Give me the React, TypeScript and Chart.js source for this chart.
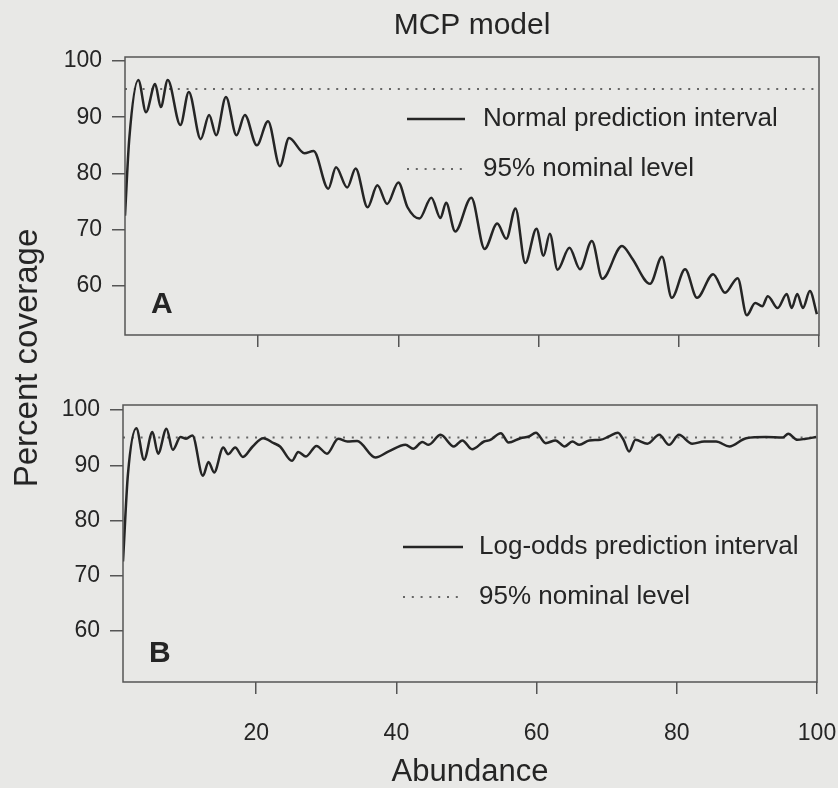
import React, { useEffect, useRef } from "react";
import { Chart, registerables } from "chart.js";

Chart.register(...registerables);

// ---------- data ----------
const abundanceA = [
  1.0, 1.6, 2.9, 4.0, 5.3, 6.1, 7.1, 8.9, 10.1, 11.8, 13.0, 14.0, 15.4, 16.9, 18.1, 19.8,
  21.4, 23.1, 24.4, 26.6, 27.9, 30.0, 31.1, 32.7, 33.9, 35.6, 37.0, 38.4, 40.0, 41.3, 43.0,
  44.7, 46.0, 46.8, 48.1, 50.4, 52.3, 54.1, 55.4, 56.7, 58.1, 59.7, 60.7, 61.6, 62.7, 64.4,
  65.9, 67.6, 69.1, 71.9, 73.3, 75.9, 77.6, 79.0, 80.9, 82.6, 84.9, 86.6, 88.4, 89.7, 90.9,
  91.9, 92.7, 94.1, 95.4, 96.1, 96.9, 97.7, 98.7, 99.7,
];
const coverageA = [
  72.5, 86.0, 96.6, 90.9, 95.9, 91.8, 96.6, 88.6, 94.5, 86.1, 90.4, 86.8, 93.6, 86.8, 90.4, 85.0,
  89.3, 81.3, 86.3, 83.6, 84.0, 77.3, 81.1, 77.5, 80.9, 74.0, 77.9, 74.6, 78.4, 74.0, 72.0,
  75.7, 72.1, 74.8, 69.7, 75.7, 66.6, 71.1, 68.4, 73.8, 64.1, 70.2, 65.4, 69.3, 62.9, 66.8,
  63.0, 68.0, 61.3, 67.1, 65.0, 60.4, 65.2, 57.9, 63.0, 57.9, 62.1, 58.8, 61.4, 54.8, 57.0,
  56.4, 58.2, 56.1, 58.6, 56.1, 58.6, 56.1, 59.1, 55.0,
];

const abundanceB = [
  1.0, 1.7, 2.9, 4.0, 5.2, 6.0, 7.2, 8.1, 9.2, 10.0, 10.9, 12.4, 13.2, 14.0, 15.3, 16.0, 17.0,
  18.1, 19.5, 21.0, 22.5, 23.4, 25.1, 26.0, 27.1, 28.6, 30.1, 31.7, 33.0, 34.4, 37.0, 38.9,
  41.3, 42.4, 43.7, 44.6, 46.3, 48.2, 49.4, 50.8, 52.5, 53.4, 54.9, 56.0, 57.7, 58.9, 59.9,
  61.3, 62.7, 64.0, 65.1, 66.1, 67.5, 69.1, 70.3, 71.6, 72.4, 73.2, 74.1, 75.8, 77.5, 78.9,
  80.3, 82.2, 83.9, 85.6, 87.5, 89.9, 92.7, 95.1, 95.9, 97.2, 98.4, 99.9,
];
const coverageB = [
  72.6, 88.3, 96.7, 91.0, 96.0, 92.1, 96.6, 92.8, 95.1, 94.8, 95.4, 88.1, 90.6, 88.7, 93.2, 92.0, 93.2,
  91.5, 93.4, 94.9, 94.0, 93.4, 90.8, 92.4, 91.6, 93.5, 92.1, 94.8, 94.3, 94.4, 91.4, 92.5,
  93.7, 93.0, 94.2, 93.7, 95.5, 93.4, 94.5, 92.9, 94.3, 94.6, 95.8, 94.1, 94.9, 95.2, 95.9,
  94.0, 94.5, 93.4, 94.3, 93.7, 94.5, 94.6, 95.2, 95.9, 94.6, 92.5, 94.6, 93.9, 95.5, 93.7,
  95.5, 93.9, 94.3, 94.3, 93.4, 94.9, 95.1, 95.0, 95.7, 94.6, 94.8, 95.1,
];

const nominalLevel = 95;
const abundanceRange = [1, 100];
const yTickValues = [60, 70, 80, 90, 100];
const xTickValues = [20, 40, 60, 80, 100];
const seriesLabelA = "Normal prediction interval";
const seriesLabelB = "Log-odds prediction interval";
const nominalLabel = "95% nominal level";

// ---------- styling ----------
const FONT = "'Liberation Sans', Arial, Helvetica, sans-serif";
const INK = "#252525";
const AXIS = "#555555";
const DOTS = "#666666";
const BG = "#e8e8e6";

const toPoints = (xs: number[], ys: number[]) => xs.map((x, i) => ({ x, y: ys[i] }));

const decorPlugin = {
  id: "panelDecor",
  afterDraw(chart: any, _args: any, opts: any) {
    const ctx = chart.ctx;
    const a = chart.chartArea;
    ctx.save();
    // frame
    ctx.setLineDash([]);
    ctx.strokeStyle = AXIS;
    ctx.lineWidth = 1.5;
    ctx.strokeRect(a.left, a.top, a.right - a.left, a.bottom - a.top);
    // panel letter
    ctx.fillStyle = INK;
    ctx.font = `bold 30px ${FONT}`;
    ctx.textAlign = "left";
    ctx.textBaseline = "alphabetic";
    ctx.fillText(opts.letter, opts.letterX, opts.letterY);
    // legend
    chart.data.datasets.forEach((ds: any, i: number) => {
      const y = opts.legendY + i * opts.legendGap;
      ctx.beginPath();
      ctx.setLineDash(ds.borderDash || []);
      ctx.strokeStyle = ds.borderColor;
      ctx.lineWidth = ds.borderWidth;
      ctx.moveTo(opts.legendX, y);
      ctx.lineTo(opts.legendX + opts.sampleLen, y);
      ctx.stroke();
      ctx.setLineDash([]);
      ctx.fillStyle = INK;
      ctx.font = `26px ${FONT}`;
      ctx.textBaseline = "middle";
      ctx.textAlign = "left";
      ctx.fillText(ds.label, opts.legendX + opts.sampleLen + opts.textGap, y);
    });
    // shared y-axis title
    if (opts.yTitle) {
      ctx.translate(opts.yTitleX, opts.yTitleY);
      ctx.rotate(-Math.PI / 2);
      ctx.font = `33px ${FONT}`;
      ctx.textAlign = "center";
      ctx.textBaseline = "middle";
      ctx.fillStyle = INK;
      ctx.fillText(opts.yTitle, 0, 0);
    }
    ctx.restore();
  },
};

function makeScales(p: {
  yWidth: number;
  xHeight: number;
  showX: boolean;
  yMin: number;
  yMax: number;
  xTitle?: string;
}) {
  const zeroPad = (s: any) => {
    s.paddingLeft = 0;
    s.paddingRight = 0;
    s.paddingTop = 0;
    s.paddingBottom = 0;
  };
  return {
    x: {
      type: "linear",
      min: abundanceRange[0],
      max: abundanceRange[1],
      afterBuildTicks: (s: any) => {
        s.ticks = xTickValues.map((v) => ({ value: v }));
      },
      afterFit: (s: any) => {
        s.height = p.xHeight;
        zeroPad(s);
      },
      grid: {
        display: true,
        drawOnChartArea: false,
        drawTicks: true,
        tickLength: 12,
        color: AXIS,
        lineWidth: 1.5,
      },
      border: { display: false },
      ticks: {
        display: p.showX,
        font: { family: FONT, size: 23 },
        color: INK,
        padding: 26,
        maxRotation: 0,
        autoSkip: false,
      },
      title: p.xTitle
        ? {
            display: true,
            text: p.xTitle,
            font: { family: FONT, size: 31, lineHeight: 1 },
            color: INK,
            padding: 0,
          }
        : { display: false },
    },
    y: {
      type: "linear",
      min: p.yMin,
      max: p.yMax,
      afterBuildTicks: (s: any) => {
        s.ticks = yTickValues.map((v) => ({ value: v }));
      },
      afterFit: (s: any) => {
        s.width = p.yWidth;
        zeroPad(s);
      },
      grid: {
        display: true,
        drawOnChartArea: false,
        drawTicks: true,
        tickLength: 13,
        color: AXIS,
        lineWidth: 1.5,
      },
      border: { display: false },
      ticks: {
        font: { family: FONT, size: 23 },
        color: INK,
        padding: 10,
        autoSkip: false,
      },
    },
  };
}

function makeDatasets(label: string, xs: number[], ys: number[]) {
  return [
    {
      label,
      data: toPoints(xs, ys),
      borderColor: INK,
      borderWidth: 2.5,
      pointRadius: 0,
      fill: false,
      cubicInterpolationMode: "monotone",
    },
    {
      label: nominalLabel,
      data: toPoints(abundanceRange, [nominalLevel, nominalLevel]),
      borderColor: DOTS,
      borderWidth: 2,
      borderDash: [2, 6.8],
      pointRadius: 0,
      fill: false,
    },
  ];
}

function configA(): any {
  return {
    type: "line",
    data: { datasets: makeDatasets(seriesLabelA, abundanceA, coverageA) },
    plugins: [decorPlugin],
    options: {
      responsive: false,
      animation: false,
      events: [],
      layout: { padding: { top: 0, left: 0, right: 19, bottom: 441 } },
      scales: makeScales({ yWidth: 125, xHeight: 12, showX: false, yMin: 51.3, yMax: 100.7 }),
      plugins: {
        legend: { display: false },
        tooltip: { enabled: false },
        title: {
          display: true,
          text: "MCP model",
          fullSize: false,
          color: INK,
          font: { family: FONT, size: 30, weight: "normal", lineHeight: 1.2 },
          padding: { top: 8, bottom: 13 },
        },
        panelDecor: {
          letter: "A",
          letterX: 151,
          letterY: 313,
          legendX: 407,
          legendY: 119,
          legendGap: 50,
          sampleLen: 58,
          textGap: 18,
        },
      },
    },
  };
}

function configB(): any {
  return {
    type: "line",
    data: { datasets: makeDatasets(seriesLabelB, abundanceB, coverageB) },
    plugins: [decorPlugin],
    options: {
      responsive: false,
      animation: false,
      events: [],
      layout: { padding: { top: 405, left: 0, right: 21, bottom: 0 } },
      scales: makeScales({
        yWidth: 123,
        xHeight: 106,
        showX: true,
        yMin: 50.8,
        yMax: 100.9,
        xTitle: "Abundance",
      }),
      plugins: {
        legend: { display: false },
        tooltip: { enabled: false },
        title: { display: false },
        panelDecor: {
          letter: "B",
          letterX: 149,
          letterY: 662,
          legendX: 403,
          legendY: 547,
          legendGap: 50,
          sampleLen: 60,
          textGap: 16,
          yTitle: "Percent coverage",
          yTitleX: 28,
          yTitleY: 358,
        },
      },
    },
  };
}

function Panel({ make }: { make: () => any }) {
  const ref = useRef<HTMLCanvasElement | null>(null);
  useEffect(() => {
    if (!ref.current) return;
    const chart = new Chart(ref.current, make());
    return () => chart.destroy();
  }, [make]);
  return (
    <canvas
      ref={ref}
      width={838}
      height={788}
      style={{ position: "absolute", left: 0, top: 0, width: 838, height: 788 }}
    />
  );
}

export default function App() {
  return (
    <div
      style={{
        position: "fixed",
        left: 0,
        top: 0,
        width: 838,
        height: 788,
        background: BG,
        overflow: "hidden",
      }}
    >
      <Panel make={configA} />
      <Panel make={configB} />
    </div>
  );
}
